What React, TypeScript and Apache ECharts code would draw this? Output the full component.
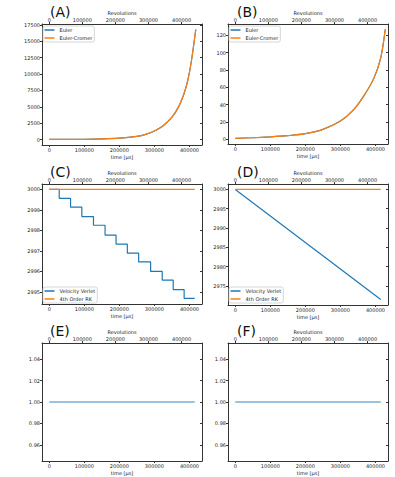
import React, { useEffect, useRef } from 'react';
import * as echarts from 'echarts';

// ---- tick labels ----
const timeTicks = [0, 100000, 200000, 300000, 400000];
const revTicks = [0, 100000, 200000, 300000, 400000];
const yTicksA = [0, 2500, 5000, 7500, 10000, 12500, 15000, 17500];
const yTicksB = [0, 20, 40, 60, 80, 100, 120];
const yTicksC = [2995, 2996, 2997, 2998, 2999, 3000];
const yTicksD = [2975, 2980, 2985, 2990, 2995, 3000];
const yTicksEF = [0.96, 0.98, 1.0, 1.02, 1.04];

// ---- panel A (Euler vs Euler-Cromer) ----
const timeA = [0, 50000, 100000, 150000, 200000, 250000, 275000, 300000, 325000, 350000, 370000, 385000, 395000, 405000, 418000];
const eulerA = [10, 20, 40, 90, 200, 480, 780, 1300, 2100, 3400, 5100, 7100, 9000, 11800, 16800];
const eulerCromerA = [10, 20, 40, 90, 200, 480, 780, 1300, 2100, 3400, 5100, 7100, 9000, 11800, 16800];

// ---- panel B ----
const timeB = [0, 50000, 100000, 150000, 200000, 250000, 300000, 335000, 365000, 395000, 415000, 428000];
const eulerB = [1.2, 1.8, 2.8, 4.2, 6.5, 11.5, 21, 33, 49, 70, 94, 127];
const eulerCromerB = [1.2, 1.8, 2.8, 4.2, 6.5, 11.5, 21, 33, 49, 70, 94, 127];

// ---- panel C (staircase) ----
const timeC = [0, 28400, 60700, 92900, 126100, 159200, 190500, 222700, 255000, 289100, 322300, 353600, 384800, 415000];
const verletC = [3000, 2999.56, 2999.13, 2998.67, 2998.25, 2997.77, 2997.33, 2996.89, 2996.46, 2996.0, 2995.57, 2995.11, 2994.68, 2994.68];
const rk4TimeC = [0, 415000];
const rk4C = [3000, 3000];

// ---- panel D ----
const timeD = [0, 415000];
const verletD = [3000, 2971.5];
const rk4D = [3000, 3000];

// ---- panels E, F ----
const timeEF = [0, 415000];
const ratioE = [1.0, 1.0];
const ratioF = [1.0, 1.0];

const FONT = 'DejaVu Sans';
const BLUE = '#1f77b4';
const ORANGE = '#ff7f0e';

const zip = (t: number[], v: number[]) => t.map((x, i) => [x, v[i]]);

const T_MIN = -20750;
const T_MAX = 435750;
const REV = 1.06;

function buildOption() {
  const grids = [
    { left: 42, top: 24, width: 160, height: 121 },
    { left: 228, top: 24, width: 160, height: 120 },
    { left: 42, top: 184, width: 160, height: 120 },
    { left: 228, top: 184, width: 160, height: 121 },
    { left: 42, top: 343, width: 160, height: 118 },
    { left: 228, top: 343, width: 160, height: 118 },
  ];
  const yCfg = [
    { min: -840, max: 17640, ticks: yTicksA, dec: 0 },
    { min: -5.4, max: 133, ticks: yTicksB, dec: 0 },
    { min: 2994.41, max: 3000.26, ticks: yTicksC, dec: 0 },
    { min: 2970.1, max: 3001.4, ticks: yTicksD, dec: 0 },
    { min: 0.945, max: 1.055, ticks: yTicksEF, dec: 2 },
    { min: 0.945, max: 1.055, ticks: yTicksEF, dec: 2 },
  ];
  const labels = ['(A)', '(B)', '(C)', '(D)', '(E)', '(F)'];
  const lineColor = '#333';
  const txt = { fontSize: 5, fontFamily: FONT, color: '#222' };

  const xAxis: any[] = [];
  const yAxis: any[] = [];
  grids.forEach((g, i) => {
    xAxis.push({
      type: 'value', gridIndex: i, position: 'bottom', min: T_MIN, max: T_MAX,
      name: 'time [μs]', nameLocation: 'middle', nameGap: 9,
      nameTextStyle: { fontSize: 5, fontFamily: FONT, color: '#222' },
      axisLine: { show: true, onZero: false, lineStyle: { color: lineColor, width: 1 } },
      axisTick: { show: true, length: 2, customValues: timeTicks, lineStyle: { color: lineColor } },
      axisLabel: { ...txt, margin: 2, customValues: timeTicks, formatter: (v: number) => String(Math.round(v)) },
      splitLine: { show: false },
    });
    xAxis.push({
      type: 'value', gridIndex: i, position: 'top', min: T_MIN * REV, max: T_MAX * REV,
      name: 'Revolutions', nameLocation: 'middle', nameGap: 9,
      nameTextStyle: { fontSize: 5, fontFamily: FONT, color: '#222' },
      axisLine: { show: true, onZero: false, lineStyle: { color: lineColor, width: 1 } },
      axisTick: { show: true, length: 2, customValues: revTicks, lineStyle: { color: lineColor } },
      axisLabel: { ...txt, margin: 2, customValues: revTicks, formatter: (v: number) => String(Math.round(v)) },
      splitLine: { show: false },
    });
    const c = yCfg[i];
    yAxis.push({
      type: 'value', gridIndex: i, position: 'left', min: c.min, max: c.max,
      axisLine: { show: true, onZero: false, lineStyle: { color: lineColor, width: 1 } },
      axisTick: { show: true, length: 2, customValues: c.ticks, lineStyle: { color: lineColor } },
      axisLabel: { ...txt, margin: 2, customValues: c.ticks, formatter: (v: number) => v.toFixed(c.dec) },
      splitLine: { show: false },
    });
    yAxis.push({
      type: 'value', gridIndex: i, position: 'right', min: c.min, max: c.max,
      axisLine: { show: true, onZero: false, lineStyle: { color: lineColor, width: 1 } },
      axisTick: { show: true, inside: true, length: 2, customValues: c.ticks, lineStyle: { color: lineColor } },
      axisLabel: { show: false },
      splitLine: { show: false },
    });
  });

  const line = (name: string, i: number, data: number[][], color: string, extra: any = {}) => ({
    type: 'line', name, xAxisIndex: 2 * i, yAxisIndex: 2 * i, data,
    showSymbol: false, symbol: 'none', color,
    lineStyle: { color, width: 1.2 }, ...extra,
  });

  const series = [
    line('Euler', 0, zip(timeA, eulerA), BLUE, { smooth: 0.3 }),
    line('Euler-Cromer', 0, zip(timeA, eulerCromerA), ORANGE, { smooth: 0.3 }),
    line('Euler', 1, zip(timeB, eulerB), BLUE, { smooth: 0.3 }),
    line('Euler-Cromer', 1, zip(timeB, eulerCromerB), ORANGE, { smooth: 0.3 }),
    line('Velocity Verlet', 2, zip(timeC, verletC), BLUE, { step: 'end' }),
    line('4th Order RK', 2, zip(rk4TimeC, rk4C), ORANGE),
    line('Velocity Verlet', 3, zip(timeD, verletD), BLUE),
    line('4th Order RK', 3, zip(timeD, rk4D), ORANGE),
    line('ratioE', 4, zip(timeEF, ratioE), '#3a87bd'),
    line('ratioF', 5, zip(timeEF, ratioF), '#3a87bd'),
  ];

  const legendBase = {
    orient: 'vertical', itemWidth: 10, itemHeight: 1.5, itemGap: 2, icon: 'rect',
    textStyle: { fontSize: 5, fontFamily: FONT, color: '#222', lineHeight: 6 },
    padding: [1, 2, 1, 1.5], backgroundColor: '#fff', borderColor: '#ccc', borderWidth: 0.8, borderRadius: 2,
    selectedMode: false,
  };
  const legend = [
    { ...legendBase, left: 43, top: 26, data: ['Euler', 'Euler-Cromer'] },
    { ...legendBase, left: 229, top: 26, data: ['Euler', 'Euler-Cromer'] },
    { ...legendBase, left: 43, top: 287, data: ['Velocity Verlet', '4th Order RK'] },
    { ...legendBase, left: 229, top: 287, data: ['Velocity Verlet', '4th Order RK'] },
  ];

  const graphic = grids.map((g, i) => ({
    type: 'text', left: g.left + (i % 2 === 0 ? 8 : 9), top: g.top - 19,
    style: { text: labels[i], fontSize: 14, fontFamily: FONT, fill: '#111' },
  }));

  return {
    animation: false,
    backgroundColor: '#fff',
    grid: grids.map((g) => ({ ...g, containLabel: false })),
    xAxis, yAxis, series, legend, graphic,
  };
}

export default function App() {
  const ref = useRef<HTMLDivElement>(null);
  useEffect(() => {
    if (!ref.current) return;
    const chart = echarts.init(ref.current, undefined, { renderer: 'svg' });
    chart.setOption(buildOption() as any);
    return () => chart.dispose();
  }, []);
  return <div ref={ref} style={{ position: 'absolute', left: 0, top: 0, width: 395, height: 477 }} />;
}
